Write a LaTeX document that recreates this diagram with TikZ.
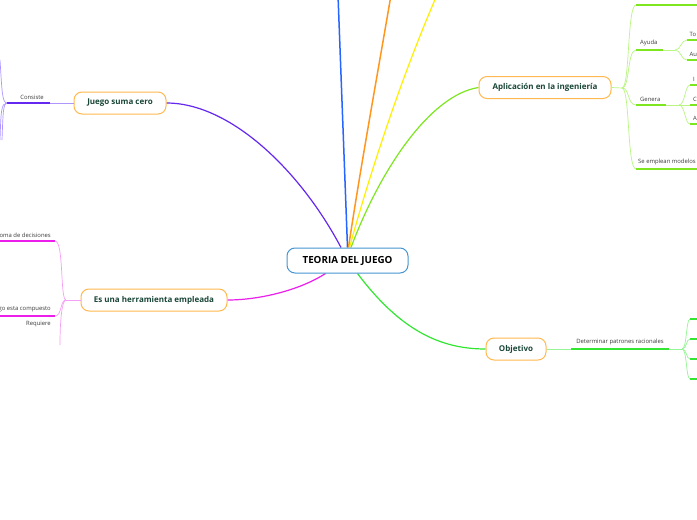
\documentclass[tikz,border=0pt]{standalone}
\usepackage{fontspec}
\setmainfont{Open Sans}
\pgfdeclarelayer{background}
\pgfsetlayers{background,main}
\begin{document}
\begin{tikzpicture}[x=1pt,y=-1pt,
  mainbox/.style={draw=cblue,line width=1pt,rounded corners=8pt,fill=white,font=\fontsize{9.8}{11}\selectfont\bfseries,text=black,minimum width=121pt,minimum height=25pt,inner sep=0pt},
  topicbox/.style={draw=corange,line width=1pt,rounded corners=8pt,fill=white,font=\fontsize{8}{10}\selectfont\bfseries,text=cdark,minimum height=22pt,inner sep=0pt},
  lbl/.style={font=\fontsize{5.9}{7}\selectfont,text=cgray,inner sep=0pt},
  thick line/.style={line width=1.5pt},
  thin line/.style={line width=0.7pt}]
\definecolor{cblue}{RGB}{70,150,210}
\definecolor{corange}{RGB}{255,185,80}
\definecolor{cdark}{RGB}{25,70,55}
\definecolor{cgray}{RGB}{60,60,60}
\definecolor{lblue}{RGB}{40,100,255}
\definecolor{lorange}{RGB}{255,150,30}
\definecolor{lyellow}{RGB}{255,240,0}
\definecolor{llime}{RGB}{125,230,30}
\definecolor{llimel}{RGB}{185,245,130}
\definecolor{lgreen}{RGB}{50,230,50}
\definecolor{lgreenl}{RGB}{150,245,150}
\definecolor{lpurple}{RGB}{100,40,240}
\definecolor{lpurplel}{RGB}{175,150,255}
\definecolor{lmag}{RGB}{235,30,235}
\definecolor{lmagl}{RGB}{245,160,245}
\useasboundingbox (0,0) rectangle (697,520);

% free ends at top
\coordinate (blueend) at (338,-5);
\coordinate (orangeend) at (391,-5);
\coordinate (yellowend) at (437,-5);

\node[mainbox] (c) at (347.5,260.5) {TEORIA DEL JUEGO};
\node[topicbox,minimum width=92pt] (jsc) at (120,103) {Juego suma cero};
\node[topicbox,minimum width=146pt] (her) at (154,300) {Es una herramienta empleada};
\node[topicbox,minimum width=132pt] (apl) at (545,87.5) {Aplicación en la ingeniería};
\node[topicbox,minimum width=60pt] (obj) at (516,349) {Objetivo};

\begin{pgfonlayer}{background}
\fill[white] (0,0) rectangle (697,520);
\draw[lblue,line width=1.5pt] (c.north) -- (blueend);
\draw[lorange,line width=1.5pt] ([xshift=1pt]c.north) .. controls (360,170) and (380,60) .. (orangeend);
\draw[lyellow,line width=1.2pt] ([xshift=2pt]c.north) .. controls (368,180) and (400,80) .. (yellowend);
\draw[llime,line width=1.2pt] ([xshift=3.5pt]c.north) .. controls (380,170) and (430,95) .. (apl.west);
\draw[lpurple,line width=1.2pt] ([xshift=-6.5pt]c.north) .. controls (300,170) and (230,103) .. (jsc.east);
\draw[lmag,line width=1.2pt] ([xshift=-22pt]c.south) .. controls (300,290) and (260,300) .. (her.east);
\draw[lgreen,line width=1.2pt] ([xshift=10pt]c.south) .. controls (400,330) and (440,349) .. (obj.west);
\end{pgfonlayer}

% ---- Juego suma cero branch
\coordinate (cs1) at (50,103);
\coordinate (cs0) at (7,103);
\draw[lpurplel,thin line] (jsc.west) -- (cs1);
\draw[lpurple,thick line] (cs1) -- (cs0);
\node[lbl,anchor=south] (cons) at (32,99.5) {Consiste};
\coordinate (cu) at (0,60);
\coordinate (cd1) at (0,140);
\coordinate (cd2) at (2,140);
\draw[lpurplel,thin line] (cs0) .. controls (2,103) and (2,90) .. (cu);
\draw[lpurplel,thin line] (cs0) .. controls (1,103) and (1,112) .. (cd1);
\draw[lpurplel,thin line] (cs0) .. controls (3,103) and (3,115) .. (cd2);

% ---- Es una herramienta branch
\coordinate (hj) at (66,300);
\draw[lmagl,thin line] (her.west) -- (hj);
\coordinate (h1) at (55,241);
\coordinate (h1e) at (0,241);
\coordinate (h2) at (55,316);
\coordinate (h2e) at (0,316);
\coordinate (h3) at (60,345);
\draw[lmagl,thin line] (hj) .. controls (60,300) and (64,241) .. (h1);
\draw[lmagl,thin line] (hj) .. controls (60,300) and (62,316) .. (h2);
\draw[lmagl,thin line] (hj) .. controls (62,300) and (60,320) .. (h3);
\draw[lmag,thick line] (h1) -- (h1e);
\draw[lmag,thick line] (h2) -- (h2e);
\node[lbl,anchor=south east] (l1) at (51,237.5) {oma de decisiones};
\node[lbl,anchor=south east] (l2) at (51,312.5) {go esta compuesto};
\node[lbl,anchor=south east] (l3) at (51,327) {Requiere};

% ---- Aplicación branch
\coordinate (aj) at (622,88);
\draw[llimel,thin line] (apl.east) -- (aj);
\foreach \y/\nm in {5/a0,50/a1,105/a2,169/a3}{
  \coordinate (\nm) at (636,\y);
  \draw[llimel,thin line] (aj) .. controls (630,88) and (627,\y) .. (\nm);
}
\coordinate (a0e) at (697,5);
\draw[llime,thick line] (a0) -- (a0e);
\coordinate (a1m) at (663,50);
\coordinate (a1j) at (675,50);
\draw[llime,thick line] (a1) -- (a1m);
\draw[llimel,thin line] (a1m) -- (a1j);
\node[lbl,anchor=south west] (ayuda) at (640,46.5) {Ayuda};
\foreach \y/\nm/\t in {40/b1/To,60/b2/Au}{
  \coordinate (\nm) at (687,\y);
  \coordinate (\nm e) at (697,\y);
  \draw[llimel,thin line] (a1j) .. controls (681,50) and (681,\y) .. (\nm);
  \draw[llime,thick line] (\nm) -- (\nm e);
  \node[lbl,anchor=south west] (\nm t) at (689.5,\y-3.5) {\t};
}
\coordinate (a2m) at (666,105);
\coordinate (a2j) at (679,105);
\draw[llime,thick line] (a2) -- (a2m);
\draw[llimel,thin line] (a2m) -- (a2j);
\node[lbl,anchor=south west] (genera) at (640,101.5) {Genera};
\foreach \y/\nm/\t in {85/g1/I,105/g2/C,124/g3/A}{
  \coordinate (\nm) at (690,\y);
  \coordinate (\nm e) at (697,\y);
  \draw[llimel,thin line] (a2j) .. controls (685,105) and (685,\y) .. (\nm);
  \draw[llime,thick line] (\nm) -- (\nm e);
  \node[lbl,anchor=south west] (\nm t) at (693,\y-3.5) {\t};
}
\coordinate (a3e) at (697,169);
\draw[llime,thick line] (a3) -- (a3e);
\node[lbl,anchor=south west] (sem) at (638,165.5) {Se emplean modelos};

% ---- Objetivo branch
\coordinate (o1) at (571,349);
\coordinate (o2) at (669,349);
\coordinate (oj) at (682,349);
\draw[lgreenl,thin line] (obj.east) -- (o1);
\draw[lgreen,thick line] (o1) -- (o2);
\draw[lgreenl,thin line] (o2) -- (oj);
\node[lbl,anchor=south] (det) at (620,345.5) {Determinar patrones racionales};
\foreach \y/\nm in {319/p1,339/p2,359/p3,379/p4}{
  \coordinate (\nm) at (690,\y);
  \coordinate (\nm e) at (697,\y);
  \draw[lgreenl,thin line] (oj) .. controls (687,349) and (686,\y) .. (\nm);
  \draw[lgreen,thick line] (\nm) -- (\nm e);
}
\end{tikzpicture}
\end{document}
